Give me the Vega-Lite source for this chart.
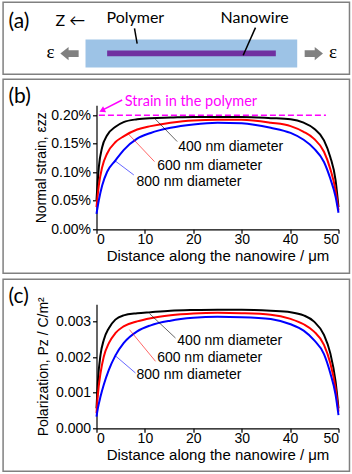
{
  "$schema": "https://vega.github.io/schema/vega-lite/v6.json",
  "autosize": {"type": "pad"},
  "padding": {"left": 1.5, "top": 1.3, "right": 2, "bottom": 2},
  "bounds": "flush",
  "spacing": 75,
  "background": "white",
  "config": {
    "view": {"stroke": null},
    "axis": {
      "domainColor": "black", "tickColor": "black", "labelColor": "black", "titleColor": "black",
      "labelFont": "Liberation Sans", "titleFont": "Liberation Sans",
      "labelFontSize": 14, "titleFontSize": 14, "titleFontWeight": "normal",
      "grid": false, "tickSize": 4, "domainWidth": 1.2, "tickWidth": 1.2
    }
  },
  "datasets": {
    "strain": [
      {"x": 0, "d": "400", "y": 0.00051}, {"x": 0.48, "d": "400", "y": 0.00109}, {"x": 1.17, "d": "400", "y": 0.00144}, {"x": 2.2, "d": "400", "y": 0.00165}, {"x": 3.93, "d": "400", "y": 0.0018}, {"x": 5.6, "d": "400", "y": 0.00188}, {"x": 8.4, "d": "400", "y": 0.00193}, {"x": 11.2, "d": "400", "y": 0.00195}, {"x": 15.3, "d": "400", "y": 0.00196}, {"x": 20, "d": "400", "y": 0.00197}, {"x": 25, "d": "400", "y": 0.00197}, {"x": 30, "d": "400", "y": 0.00197}, {"x": 36, "d": "400", "y": 0.00195}, {"x": 40.1, "d": "400", "y": 0.00193}, {"x": 42.8, "d": "400", "y": 0.00187}, {"x": 44.9, "d": "400", "y": 0.00177}, {"x": 47, "d": "400", "y": 0.00156}, {"x": 48.3, "d": "400", "y": 0.00127}, {"x": 49.4, "d": "400", "y": 0.00086}, {"x": 50, "d": "400", "y": 0.00039},
      {"x": 0, "d": "600", "y": 0.00039}, {"x": 0.48, "d": "600", "y": 0.00077}, {"x": 1.17, "d": "600", "y": 0.00109}, {"x": 2.2, "d": "600", "y": 0.00133}, {"x": 3.93, "d": "600", "y": 0.00153}, {"x": 5.6, "d": "600", "y": 0.00163}, {"x": 8.4, "d": "600", "y": 0.00175}, {"x": 11.2, "d": "600", "y": 0.00181}, {"x": 15.3, "d": "600", "y": 0.00187}, {"x": 20, "d": "600", "y": 0.00191}, {"x": 25, "d": "600", "y": 0.00192}, {"x": 30, "d": "600", "y": 0.00192}, {"x": 36, "d": "600", "y": 0.00187}, {"x": 40.1, "d": "600", "y": 0.00181}, {"x": 42.8, "d": "600", "y": 0.00171}, {"x": 44.9, "d": "600", "y": 0.00159}, {"x": 47, "d": "600", "y": 0.00136}, {"x": 48.3, "d": "600", "y": 0.00106}, {"x": 49.4, "d": "600", "y": 0.00068}, {"x": 50, "d": "600", "y": 0.00033},
      {"x": 0, "d": "800", "y": 0.00027}, {"x": 0.48, "d": "800", "y": 0.00051}, {"x": 1.17, "d": "800", "y": 0.00077}, {"x": 2.2, "d": "800", "y": 0.00101}, {"x": 3.93, "d": "800", "y": 0.00121}, {"x": 5.6, "d": "800", "y": 0.00139}, {"x": 8.4, "d": "800", "y": 0.00159}, {"x": 11.2, "d": "800", "y": 0.00169}, {"x": 15.3, "d": "800", "y": 0.00178}, {"x": 20, "d": "800", "y": 0.00184}, {"x": 25, "d": "800", "y": 0.00187}, {"x": 30, "d": "800", "y": 0.00186}, {"x": 36, "d": "800", "y": 0.00178}, {"x": 40.1, "d": "800", "y": 0.00169}, {"x": 42.8, "d": "800", "y": 0.00157}, {"x": 44.9, "d": "800", "y": 0.00142}, {"x": 47, "d": "800", "y": 0.00118}, {"x": 48.3, "d": "800", "y": 0.00089}, {"x": 49.4, "d": "800", "y": 0.00057}, {"x": 50, "d": "800", "y": 0.00029}
    ],
    "pol": [
      {"x": 0, "d": "400", "y": 0.00056}, {"x": 0.28, "d": "400", "y": 0.00131}, {"x": 0.83, "d": "400", "y": 0.00206}, {"x": 1.5, "d": "400", "y": 0.00248}, {"x": 2.55, "d": "400", "y": 0.00281}, {"x": 3.9, "d": "400", "y": 0.00305}, {"x": 5.6, "d": "400", "y": 0.00317}, {"x": 8.4, "d": "400", "y": 0.00323}, {"x": 11.2, "d": "400", "y": 0.00326}, {"x": 15.3, "d": "400", "y": 0.0033}, {"x": 20, "d": "400", "y": 0.00332}, {"x": 25, "d": "400", "y": 0.00333}, {"x": 30, "d": "400", "y": 0.00333}, {"x": 36, "d": "400", "y": 0.0033}, {"x": 40.1, "d": "400", "y": 0.00326}, {"x": 42.8, "d": "400", "y": 0.00317}, {"x": 44.9, "d": "400", "y": 0.003}, {"x": 47, "d": "400", "y": 0.00262}, {"x": 48.3, "d": "400", "y": 0.00211}, {"x": 49.4, "d": "400", "y": 0.00131}, {"x": 50, "d": "400", "y": 0.00056},
      {"x": 0, "d": "600", "y": 0.00042}, {"x": 0.28, "d": "600", "y": 0.00094}, {"x": 0.83, "d": "600", "y": 0.00155}, {"x": 1.5, "d": "600", "y": 0.00201}, {"x": 2.55, "d": "600", "y": 0.00239}, {"x": 3.9, "d": "600", "y": 0.00267}, {"x": 5.6, "d": "600", "y": 0.00286}, {"x": 8.4, "d": "600", "y": 0.003}, {"x": 11.2, "d": "600", "y": 0.00309}, {"x": 15.3, "d": "600", "y": 0.00317}, {"x": 20, "d": "600", "y": 0.00322}, {"x": 25, "d": "600", "y": 0.00324}, {"x": 30, "d": "600", "y": 0.00323}, {"x": 36, "d": "600", "y": 0.00319}, {"x": 40.1, "d": "600", "y": 0.00307}, {"x": 42.8, "d": "600", "y": 0.00292}, {"x": 44.9, "d": "600", "y": 0.00272}, {"x": 47, "d": "600", "y": 0.00234}, {"x": 48.3, "d": "600", "y": 0.00183}, {"x": 49.4, "d": "600", "y": 0.00112}, {"x": 50, "d": "600", "y": 0.00047},
      {"x": 0, "d": "800", "y": 0.00033}, {"x": 0.28, "d": "800", "y": 0.00056}, {"x": 0.83, "d": "800", "y": 0.00089}, {"x": 1.5, "d": "800", "y": 0.00122}, {"x": 2.55, "d": "800", "y": 0.00164}, {"x": 3.9, "d": "800", "y": 0.00204}, {"x": 5.6, "d": "800", "y": 0.00239}, {"x": 8.4, "d": "800", "y": 0.00272}, {"x": 11.2, "d": "800", "y": 0.00289}, {"x": 15.3, "d": "800", "y": 0.00302}, {"x": 20, "d": "800", "y": 0.0031}, {"x": 25, "d": "800", "y": 0.00313}, {"x": 30, "d": "800", "y": 0.00312}, {"x": 36, "d": "800", "y": 0.00307}, {"x": 40.1, "d": "800", "y": 0.00292}, {"x": 42.8, "d": "800", "y": 0.00274}, {"x": 44.9, "d": "800", "y": 0.00248}, {"x": 47, "d": "800", "y": 0.00208}, {"x": 48.3, "d": "800", "y": 0.00155}, {"x": 49.4, "d": "800", "y": 0.00094}, {"x": 50, "d": "800", "y": 0.00037}
    ]
  },
  "vconcat": [
    {
      "width": 242, "height": 28,
      "encoding": {
        "x": {"field": "x", "type": "quantitative", "scale": {"domain": [0, 50], "nice": false, "zero": false}, "axis": null},
        "y": {"field": "v", "type": "quantitative", "scale": {"domain": [0, 28], "nice": false, "zero": false}, "axis": null}
      },
      "layer": [
        {"data": {"values": [{"x": -19.3, "x2": 52.27, "v": 28, "v2": -44}]}, "mark": {"type": "rect", "fillOpacity": 0, "stroke": "#808080", "strokeWidth": 1.5}, "encoding": {"x2": {"field": "x2"}, "y2": {"field": "v2"}}},
        {"data": {"values": [{"x": -2.27, "x2": 41.47, "v": -9.3, "v2": -37.3}]}, "mark": {"type": "rect", "fill": "#9dc3e6"}, "encoding": {"x2": {"field": "x2"}, "y2": {"field": "v2"}}},
        {"data": {"values": [{"x": 2.2, "x2": 37.05, "v": -20.3, "v2": -26}]}, "mark": {"type": "rect", "fill": "#7030a0"}, "encoding": {"x2": {"field": "x2"}, "y2": {"field": "v2"}}},
        {"data": {"values": [{"x": 7.85, "x2": 8.4, "v": 2, "v2": -13.3}, {"x": 32.85, "x2": 30.31, "v": 2.7, "v2": -25}]}, "mark": {"type": "rule", "color": "black", "strokeWidth": 1.5}, "encoding": {"x2": {"field": "x2"}, "y2": {"field": "v2"}}},
        {"data": {"values": [{"x": -5.58, "v": -23.3}]}, "mark": {"type": "point", "filled": true, "fill": "#808080", "strokeWidth": 0, "opacity": 1, "size": 335, "shape": "M-1,0L-0.1,-0.73L-0.1,-0.36L1,-0.36L1,0.36L-0.1,0.36L-0.1,0.73Z"}, "encoding": {}},
        {"data": {"values": [{"x": 44.9, "v": -23.3}]}, "mark": {"type": "point", "filled": true, "fill": "#808080", "strokeWidth": 0, "opacity": 1, "size": 335, "shape": "M1,0L0.1,-0.73L0.1,-0.36L-1,-0.36L-1,0.36L0.1,0.36L0.1,0.73Z"}, "encoding": {}},
        {"data": {"values": [{"x": -18.18, "v": 8, "label": "(a)"}]}, "mark": {"type": "text", "align": "left", "baseline": "middle", "font": "Lato", "fontSize": 21, "color": "black"}, "encoding": {"text": {"field": "label"}}},
        {"data": {"values": [{"x": -8.47, "v": 9.3, "label": "Z ←"}, {"x": 2.07, "v": 12, "label": "Polymer"}, {"x": 25.62, "v": 12, "label": "Nanowire"}]}, "mark": {"type": "text", "align": "left", "baseline": "middle", "font": "Lato", "fontSize": 16, "color": "black"}, "encoding": {"text": {"field": "label"}}},
        {"data": {"values": [{"x": -9.5, "v": -27.7, "label": "ε"}, {"x": 48.86, "v": -27.7, "label": "ε"}]}, "mark": {"type": "text", "align": "center", "baseline": "alphabetic", "font": "Liberation Serif", "fontSize": 19, "color": "black"}, "encoding": {"text": {"field": "label"}}}
      ]
    },
    {
      "width": 242, "height": 124,
      "encoding": {
        "x": {"field": "x", "type": "quantitative", "scale": {"domain": [0, 50], "nice": false, "zero": false}, "axis": {"values": [0, 10, 20, 30, 40, 50], "format": "d", "labelPadding": -1, "titlePadding": 2, "titleFontSize": 15, "title": "Distance along the nanowire / μm"}},
        "y": {"field": "y", "type": "quantitative", "scale": {"domain": [0, 0.002175], "nice": false, "zero": false}, "axis": {"values": [0, 0.0005, 0.001, 0.0015, 0.002], "format": ".2%", "labelPadding": 2, "titlePadding": 2, "title": "Normal strain, εzz"}}
      },
      "layer": [
        {"data": {"values": [{"x": -19.3, "x2": 52.27, "y": 0.0026316, "y2": -0.000772}]}, "mark": {"type": "rect", "fillOpacity": 0, "stroke": "#808080", "strokeWidth": 1.5}, "encoding": {"x2": {"field": "x2"}, "y2": {"field": "y2"}}},
        {"data": {"values": [{"x": 0.5, "x2": 47.4, "y": 0.002}]}, "mark": {"type": "rule", "color": "#ff00ff", "strokeWidth": 1.5, "strokeDash": [6, 3]}, "encoding": {"x2": {"field": "x2"}}},
        {"data": {"values": [{"x": 5.3, "x2": 1.3, "y": 0.002268, "y2": 0.002095}]}, "mark": {"type": "rule", "color": "#ff00ff", "strokeWidth": 1.5}, "encoding": {"x2": {"field": "x2"}, "y2": {"field": "y2"}}},
        {"data": {"values": [{"x": 1.14, "y": 0.002084}]}, "mark": {"type": "point", "filled": true, "fill": "#ff00ff", "strokeWidth": 0, "opacity": 1, "size": 45, "shape": "triangle-up", "angle": 243}, "encoding": {}},
        {"data": {"values": [{"x": 5.85, "y": 0.002228, "label": "Strain in the polymer"}]}, "mark": {"type": "text", "align": "left", "baseline": "middle", "font": "Lato", "fontSize": 14.5, "color": "#ff00ff"}, "encoding": {"text": {"field": "label"}}},
        {"data": {"name": "strain"}, "mark": {"type": "line", "strokeWidth": 2, "interpolate": "monotone"}, "encoding": {"color": {"field": "d", "type": "nominal", "scale": {"domain": ["400", "600", "800"], "range": ["#000000", "#ff0000", "#0000ff"]}, "legend": null}}},
        {"data": {"values": [{"x": 11.84, "y": 0.00196, "x2": 16.67, "y2": 0.001539, "d": "400"}, {"x": 6.6, "y": 0.00167, "x2": 11.98, "y2": 0.001188, "d": "600"}, {"x": 3.7, "y": 0.00121, "x2": 7.71, "y2": 0.000953, "d": "800"}]}, "mark": {"type": "rule", "strokeWidth": 1, "opacity": 0.6}, "encoding": {"x2": {"field": "x2"}, "y2": {"field": "y2"}, "color": {"field": "d", "type": "nominal", "scale": {"domain": ["400", "600", "800"], "range": ["#000000", "#ff0000", "#0000ff"]}, "legend": null}}},
        {"data": {"values": [{"x": 16.88, "y": 0.001444, "label": "400 nm diameter"}, {"x": 12.53, "y": 0.001117, "label": "600 nm diameter"}, {"x": 8.26, "y": 0.000825, "label": "800 nm diameter"}]}, "mark": {"type": "text", "align": "left", "baseline": "middle", "font": "Liberation Sans", "fontSize": 14, "color": "black"}, "encoding": {"text": {"field": "label"}}},
        {"data": {"values": [{"x": -18.18, "y": 0.0023158, "label": "(b)"}]}, "mark": {"type": "text", "align": "left", "baseline": "middle", "font": "Lato", "fontSize": 21, "color": "black"}, "encoding": {"text": {"field": "label"}}}
      ]
    },
    {
      "width": 242, "height": 124,
      "encoding": {
        "x": {"field": "x", "type": "quantitative", "scale": {"domain": [0, 50], "nice": false, "zero": false}, "axis": {"values": [0, 10, 20, 30, 40, 50], "format": "d", "labelPadding": -1, "titlePadding": 2, "titleFontSize": 15, "title": "Distance along the nanowire / μm"}},
        "y": {"field": "y", "type": "quantitative", "scale": {"domain": [0, 0.00348], "nice": false, "zero": false}, "axis": {"values": [0, 0.001, 0.002, 0.003], "format": ".3f", "labelPadding": 2, "titlePadding": 5, "title": "Polarization, Pz / C/m²"}}
      },
      "layer": [
        {"data": {"values": [{"x": -19.3, "x2": 52.27, "y": 0.0041816, "y2": -0.0012068}]}, "mark": {"type": "rect", "fillOpacity": 0, "stroke": "#808080", "strokeWidth": 1.5}, "encoding": {"x2": {"field": "x2"}, "y2": {"field": "y2"}}},
        {"data": {"name": "pol"}, "mark": {"type": "line", "strokeWidth": 2, "interpolate": "monotone"}, "encoding": {"color": {"field": "d", "type": "nominal", "scale": {"domain": ["400", "600", "800"], "range": ["#000000", "#ff0000", "#0000ff"]}, "legend": null}}},
        {"data": {"values": [{"x": 10.95, "y": 0.003219, "x2": 16.32, "y2": 0.002534, "d": "400"}, {"x": 6.8, "y": 0.00277, "x2": 12.19, "y2": 0.00188, "d": "600"}, {"x": 3.78, "y": 0.002049, "x2": 8.06, "y2": 0.001552, "d": "800"}]}, "mark": {"type": "rule", "strokeWidth": 1, "opacity": 0.6}, "encoding": {"x2": {"field": "x2"}, "y2": {"field": "y2"}, "color": {"field": "d", "type": "nominal", "scale": {"domain": ["400", "600", "800"], "range": ["#000000", "#ff0000", "#0000ff"]}, "legend": null}}},
        {"data": {"values": [{"x": 16.7, "y": 0.002461, "label": "400 nm diameter"}, {"x": 12.53, "y": 0.001973, "label": "600 nm diameter"}, {"x": 8.26, "y": 0.001496, "label": "800 nm diameter"}]}, "mark": {"type": "text", "align": "left", "baseline": "middle", "font": "Liberation Sans", "fontSize": 14, "color": "black"}, "encoding": {"text": {"field": "label"}}},
        {"data": {"values": [{"x": -18.18, "y": 0.003676, "label": "(c)"}]}, "mark": {"type": "text", "align": "left", "baseline": "middle", "font": "Lato", "fontSize": 21, "color": "black"}, "encoding": {"text": {"field": "label"}}}
      ]
    }
  ]
}
